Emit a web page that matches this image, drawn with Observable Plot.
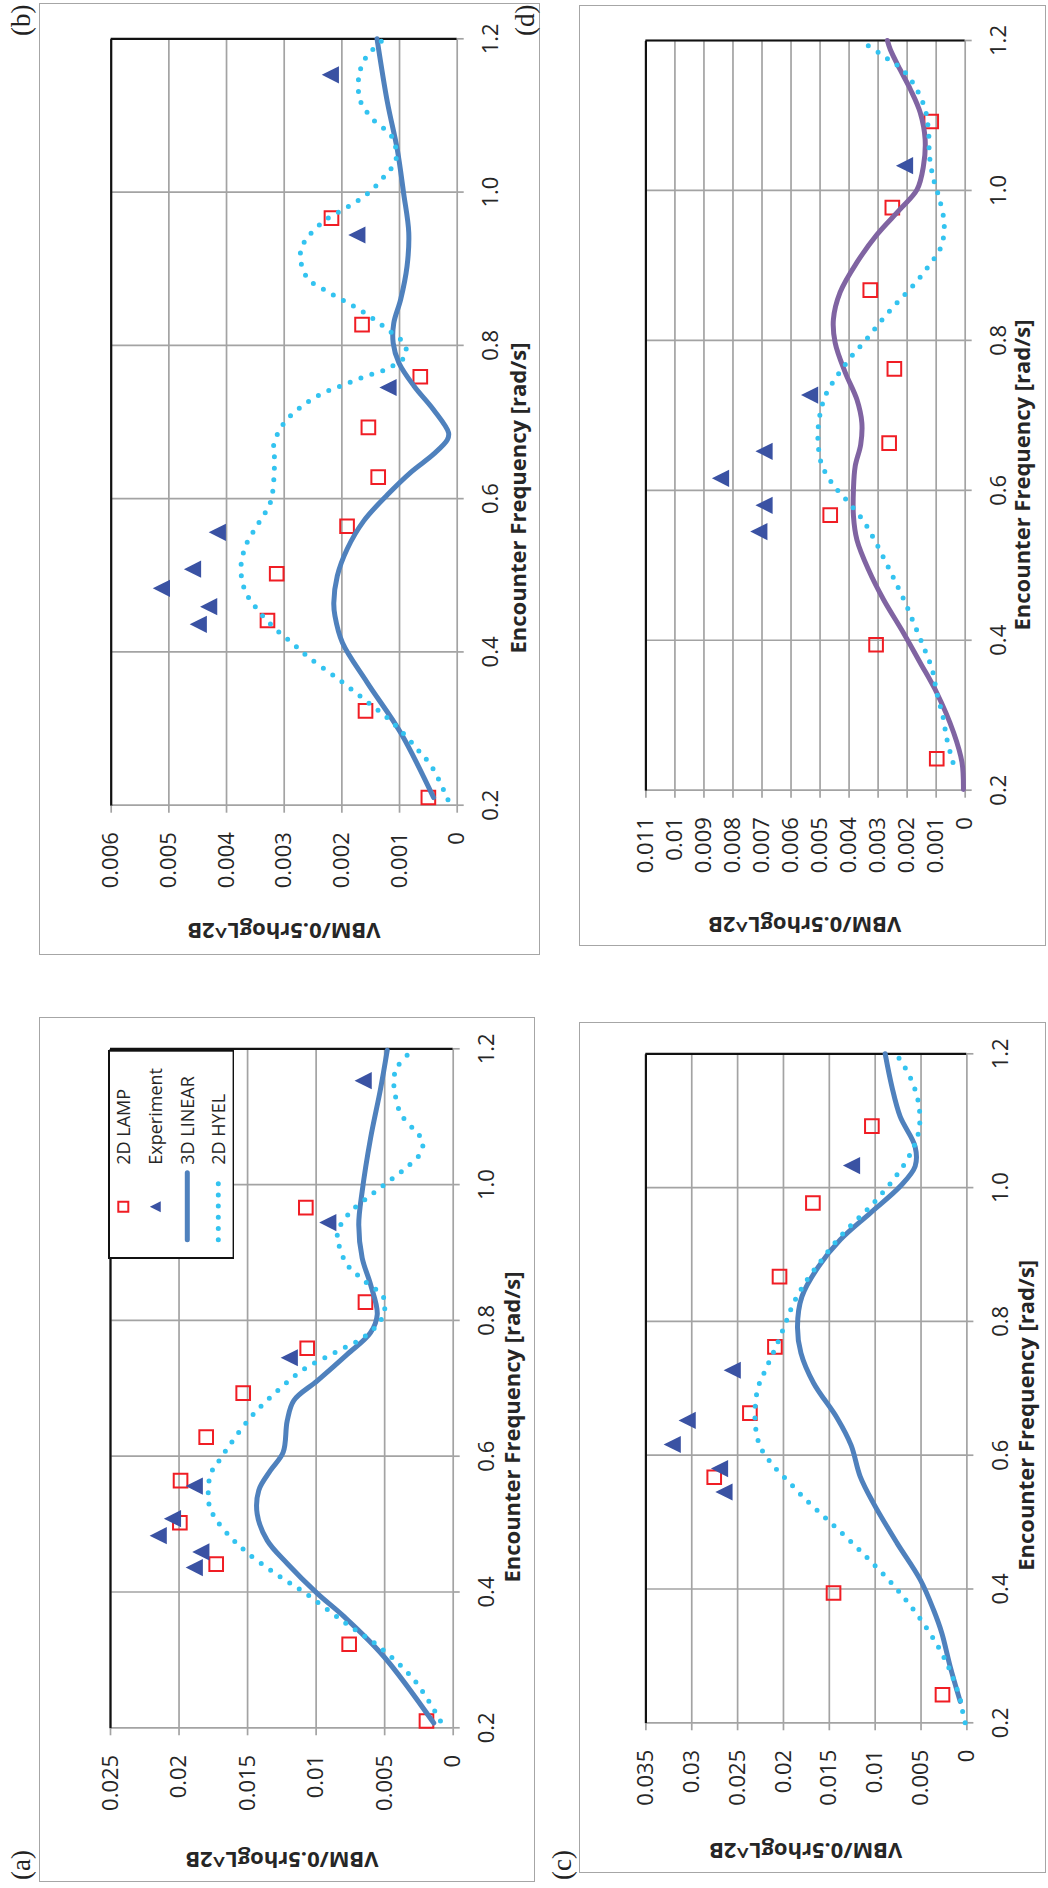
<!DOCTYPE html>
<html><head><meta charset="utf-8">
<script src="https://cdn.jsdelivr.net/npm/d3@7"></script>
<script src="https://cdn.jsdelivr.net/npm/@observablehq/plot@0.6"></script>
<style>
html,body{margin:0;padding:0;background:#fff;overflow:hidden;width:1048px;height:1888px;}
#fig{position:absolute;left:0;top:0;width:1888px;height:1048px;transform-origin:0 0;transform:translateY(1888px) rotate(-90deg);background:#fff;}
.frame{position:absolute;box-sizing:border-box;border:1.7px solid #a6a6a6;pointer-events:none;}
.chart{position:absolute;}
.tag{position:absolute;font-family:"Liberation Serif",serif;font-size:27px;line-height:27px;color:#222;}
</style></head><body><div id="fig"></div>
<script>
// ---------- data ----------
const xTicks = [0.2, 0.4, 0.6, 0.8, 1.0, 1.2];
const yTicksA = [0, 0.005, 0.01, 0.015, 0.02, 0.025];
const yTicksB = [0, 0.001, 0.002, 0.003, 0.004, 0.005, 0.006];
const yTicksC = [0, 0.005, 0.01, 0.015, 0.02, 0.025, 0.03, 0.035];
const yTicksD = [0, 0.001, 0.002, 0.003, 0.004, 0.005, 0.006, 0.007, 0.008, 0.009, 0.01, 0.011];

const seriesNames = ["2D LAMP", "Experiment", "3D LINEAR", "2D HYEL"];
const panelTags = ["(a)", "(b)", "(c)", "(d)"];
const xTitle = "Encounter Frequency [rad/s]";
const yTitle = "VBM/0.5rhogL^2B";

// 2D LAMP
const freqLampAB = [0.210, 0.323, 0.441, 0.502, 0.564, 0.628, 0.693, 0.759, 0.827, 0.966];
const vbmLampA = [0.00195, 0.00759, 0.01729, 0.01994, 0.01989, 0.01802, 0.01532, 0.01065, 0.0064, 0.01075];
const vbmLampB = [0.0005, 0.00159, 0.00329, 0.00313, 0.00191, 0.00137, 0.00154, 0.00064, 0.00165, 0.00218];
const freqLampCD = [0.242, 0.394, 0.567, 0.663, 0.762, 0.867, 0.977, 1.092];
const vbmLampC = [0.00266, 0.01454, 0.02755, 0.02366, 0.02093, 0.02043, 0.01679, 0.01036];
const vbmLampD = [0.00098, 0.00307, 0.00465, 0.00262, 0.00244, 0.00327, 0.00251, 0.00117];

// Experiment
const freqExpAB = [0.436, 0.459, 0.483, 0.508, 0.556, 0.745, 0.944, 1.153];
const vbmExpA = [0.01889, 0.01841, 0.02152, 0.02048, 0.01889, 0.01196, 0.00915, 0.00657];
const vbmExpB = [0.00449, 0.00431, 0.00513, 0.00459, 0.00416, 0.0012, 0.00174, 0.0022];
const freqExpCD = [0.545, 0.580, 0.616, 0.652, 0.727, 1.033];
const vbmExpC = [0.02649, 0.02697, 0.03213, 0.0305, 0.02559, 0.01258];
const vbmExpD = [0.00711, 0.00693, 0.00843, 0.00693, 0.00536, 0.00209];

// 3D LINEAR
const freqLinA = [0.207, 0.305, 0.364, 0.398, 0.442, 0.476, 0.515, 0.55, 0.579, 0.606, 0.652, 0.682, 0.711, 0.75, 0.782, 0.809, 0.853, 0.892, 0.941, 0.99, 1.068, 1.141, 1.198];
const vbmLinA = [0.00142, 0.00506, 0.00798, 0.00992, 0.01211, 0.01357, 0.0143, 0.01418, 0.01333, 0.0124, 0.01211, 0.01163, 0.00992, 0.00773, 0.00603, 0.00554, 0.00603, 0.00664, 0.00689, 0.00664, 0.00603, 0.0053, 0.00481];
const freqLinB = [0.21, 0.2945, 0.36, 0.412, 0.447, 0.464, 0.499, 0.534, 0.571, 0.605, 0.634, 0.658, 0.677, 0.686, 0.716, 0.747, 0.777, 0.803, 0.829, 0.86, 0.903, 0.947, 0.999, 1.056, 1.117, 1.2];
const vbmLinB = [0.00041, 0.00098, 0.00156, 0.00199, 0.00212, 0.00214, 0.00208, 0.00191, 0.00162, 0.00121, 0.00081, 0.00041, 0.00017, 0.00015, 0.00041, 0.00075, 0.00101, 0.00111, 0.0011, 0.00098, 0.00087, 0.00084, 0.00093, 0.00104, 0.00121, 0.00139];
const freqLinC = [0.232, 0.284, 0.334, 0.369, 0.414, 0.469, 0.528, 0.568, 0.615, 0.656, 0.708, 0.753, 0.792, 0.837, 0.882, 0.922, 0.962, 1.002, 1.032, 1.061, 1.106, 1.151, 1.2];
const vbmLinC = [0.00073, 0.00182, 0.00273, 0.00364, 0.00509, 0.00763, 0.01018, 0.01163, 0.01263, 0.01417, 0.01672, 0.0181, 0.01847, 0.01799, 0.01618, 0.01381, 0.01054, 0.00727, 0.00564, 0.00564, 0.00727, 0.00818, 0.00891];
const freqLinD = [0.201, 0.237, 0.277, 0.33, 0.37, 0.41, 0.454, 0.494, 0.534, 0.566, 0.601, 0.632, 0.661, 0.69, 0.721, 0.757, 0.797, 0.828, 0.864, 0.904, 0.941, 0.975, 1.001, 1.032, 1.068, 1.104, 1.135, 1.161, 1.188, 1.2];
const vbmLinD = [0.00006, 0.00011, 0.0004, 0.00098, 0.00155, 0.00213, 0.00281, 0.00333, 0.00373, 0.00385, 0.00385, 0.00379, 0.0036, 0.00356, 0.00373, 0.00413, 0.00448, 0.00454, 0.00431, 0.00373, 0.00304, 0.00224, 0.00166, 0.00144, 0.00138, 0.00155, 0.00189, 0.00224, 0.00258, 0.00268];

// 2D HYEL
const freqHyelA = [0.21, 0.268, 0.316, 0.356, 0.398, 0.427, 0.458, 0.481, 0.508, 0.525, 0.542, 0.574, 0.589, 0.618, 0.66, 0.696, 0.728, 0.753, 0.777, 0.804, 0.833, 0.859, 0.882, 0.912, 0.931, 0.96, 0.982, 1.003, 1.024, 1.048, 1.066, 1.08, 1.105, 1.136, 1.156, 1.173, 1.198];
const vbmHyelA = [0.00093, 0.00275, 0.00518, 0.00798, 0.01077, 0.01296, 0.01503, 0.01625, 0.01734, 0.01776, 0.01787, 0.0177, 0.01722, 0.01625, 0.01466, 0.01284, 0.0109, 0.00859, 0.0064, 0.00518, 0.00506, 0.00652, 0.00773, 0.00835, 0.00842, 0.00749, 0.00616, 0.00481, 0.00348, 0.00233, 0.00226, 0.00282, 0.00384, 0.00426, 0.00433, 0.00409, 0.00299];
const freqHyelB = [0.207, 0.249, 0.273, 0.307, 0.336, 0.365, 0.392, 0.412, 0.432, 0.454, 0.48, 0.51, 0.54, 0.566, 0.595, 0.625, 0.655, 0.671, 0.698, 0.719, 0.736, 0.748, 0.759, 0.769, 0.786, 0.801, 0.822, 0.84, 0.856, 0.87, 0.888, 0.914, 0.929, 0.943, 0.964, 0.98, 0.997, 1.019, 1.043, 1.073, 1.094, 1.119, 1.149, 1.164, 1.178, 1.2];
const vbmHyelB = [0.00016, 0.00043, 0.00069, 0.00111, 0.00158, 0.00207, 0.00256, 0.00287, 0.00318, 0.00345, 0.00368, 0.00375, 0.00366, 0.00346, 0.00324, 0.00318, 0.00317, 0.00318, 0.00301, 0.00272, 0.00237, 0.00199, 0.00161, 0.00123, 0.0009, 0.00091, 0.00123, 0.00156, 0.00191, 0.00225, 0.0026, 0.00272, 0.00269, 0.00257, 0.00228, 0.00191, 0.00157, 0.00128, 0.00106, 0.00114, 0.00145, 0.00168, 0.00171, 0.00166, 0.00156, 0.00127];
const freqHyelC = [0.2, 0.215, 0.231, 0.265, 0.297, 0.328, 0.357, 0.385, 0.411, 0.437, 0.462, 0.486, 0.509, 0.533, 0.559, 0.584, 0.613, 0.648, 0.698, 0.73, 0.763, 0.796, 0.827, 0.858, 0.887, 0.915, 0.941, 0.965, 0.991, 1.019, 1.048, 1.082, 1.116, 1.149, 1.181, 1.199];
const vbmHyelC = [0.00019, 0.00044, 0.00065, 0.00146, 0.00247, 0.00375, 0.00517, 0.00673, 0.00836, 0.01018, 0.01199, 0.01381, 0.01563, 0.01752, 0.01934, 0.02109, 0.02254, 0.02308, 0.02283, 0.02188, 0.02079, 0.01981, 0.01891, 0.01763, 0.0161, 0.01454, 0.01283, 0.01101, 0.00927, 0.00763, 0.00626, 0.00528, 0.00517, 0.00571, 0.0068, 0.00771];
const freqHyelD = [0.237, 0.268, 0.299, 0.33, 0.36, 0.389, 0.418, 0.447, 0.476, 0.503, 0.532, 0.559, 0.583, 0.607, 0.634, 0.665, 0.695, 0.726, 0.752, 0.778, 0.802, 0.827, 0.85, 0.873, 0.897, 0.924, 0.953, 0.985, 1.015, 1.046, 1.077, 1.108, 1.137, 1.161, 1.18, 1.2];
const vbmHyelD = [0.00042, 0.00063, 0.00077, 0.00098, 0.00113, 0.00141, 0.00172, 0.00203, 0.00238, 0.00272, 0.0031, 0.0035, 0.004, 0.00454, 0.00494, 0.00507, 0.00503, 0.00482, 0.00442, 0.00393, 0.00339, 0.00287, 0.00235, 0.0018, 0.0013, 0.00084, 0.00072, 0.00086, 0.00109, 0.00123, 0.00126, 0.00138, 0.0017, 0.00216, 0.00284, 0.0036];

// ---------- styling ----------
const GRID = "#a3a3a3", TXT = "#262626", RED = "#f01d24", NAVY = "#3a52a3", BLUE = "#4f81bd", PURPLE = "#8064a2", CYAN = "#33c3f0";
const FONT = "'Open Sans', 'Noto Sans', sans-serif";
const tri = {draw(ctx, size) { const a = Math.sqrt(size / Math.PI); ctx.moveTo(0, -a); ctx.lineTo(a, a); ctx.lineTo(-a, a); ctx.closePath(); }};
const fmtV = d => d === 0 ? "0" : String(+d.toPrecision(6));
const fmtX = d3.format(".1f");
const zip = (fs, vs) => fs.map((f, i) => ({f, v: vs[i]}));

const fig = document.getElementById("fig");

function panel(cfg) {
  const {frame, plot, yTicks} = cfg;
  const yMax = yTicks[yTicks.length - 1];
  const svg = Plot.plot({
    width: frame.w, height: frame.h,
    marginLeft: plot.l - frame.x, marginRight: frame.x + frame.w - plot.r,
    marginTop: plot.t - frame.y, marginBottom: frame.y + frame.h - plot.b,
    style: {fontFamily: FONT, fontSize: "22px", background: "transparent", color: TXT, overflow: "visible"},
    x: {domain: [0.2, 1.2]},
    y: {domain: [0, yMax]},
    marks: [
      Plot.gridX({ticks: xTicks, stroke: GRID, strokeOpacity: 1, strokeWidth: 1.7}),
      Plot.gridY({ticks: yTicks, stroke: GRID, strokeOpacity: 1, strokeWidth: 1.7}),
      Plot.ruleX([1.2], {stroke: "#111", strokeWidth: 2.2}),
      Plot.ruleY([yMax], {stroke: "#111", strokeWidth: 2.2}),
      Plot.axisX({ticks: xTicks, tickFormat: fmtX, tickSize: 7, tickPadding: 18, stroke: GRID, strokeWidth: 1.7, fill: TXT, fontSize: 22, label: null}),
      Plot.axisY({ticks: yTicks, tickFormat: fmtV, tickSize: 7, tickPadding: 20, stroke: GRID, strokeWidth: 1.7, fill: TXT, fontSize: 22, label: null}),
      Plot.dot(zip(cfg.lampF, cfg.lampV), {x: "f", y: "v", symbol: "square", r: 7.7, stroke: RED, strokeWidth: 2, fill: "none"}),
      Plot.dot(zip(cfg.expF, cfg.expV), {x: "f", y: "v", symbol: tri, r: 8.6, fill: NAVY, stroke: "none"}),
      Plot.line(zip(cfg.linF, cfg.linV), {x: "f", y: "v", stroke: cfg.linColor, strokeWidth: 5, curve: "catmull-rom"}),
      Plot.line(zip(cfg.hyF, cfg.hyV), {x: "f", y: "v", stroke: CYAN, strokeWidth: 5, strokeDasharray: "0 11.5", strokeLinecap: "round", curve: "catmull-rom"})
    ]
  });
  svg.setAttribute("class", "chart");
  svg.style.left = frame.x + "px";
  svg.style.top = frame.y + "px";
  const s = d3.select(svg);
  // axis titles
  s.append("text").attr("x", cfg.xt.x - frame.x).attr("y", cfg.xt.y - frame.y)
    .attr("text-anchor", "middle").attr("font-family", FONT).attr("font-size", 22).attr("font-weight", "bold").attr("fill", TXT)
    .text(xTitle);
  s.append("text").attr("transform", `translate(${cfg.yt.x - frame.x},${cfg.yt.y - frame.y}) rotate(-90)`)
    .attr("text-anchor", "middle").attr("dominant-baseline", "central").attr("font-family", FONT).attr("font-size", 22).attr("font-weight", "bold").attr("fill", TXT)
    .text(yTitle);
  fig.appendChild(svg);
  const fr = document.createElement("div");
  fr.className = "frame";
  Object.assign(fr.style, {left: frame.x + "px", top: frame.y + "px", width: frame.w + "px", height: frame.h + "px"});
  fig.appendChild(fr);
  const tg = document.createElement("div");
  tg.className = "tag";
  tg.textContent = cfg.tag;
  Object.assign(tg.style, {left: cfg.tagPos.x + "px", top: cfg.tagPos.y + "px"});
  fig.appendChild(tg);
}

panel({tag: panelTags[0], tagPos: {x: 8, y: 8},
  frame: {x: 6, y: 39, w: 865, h: 496}, plot: {l: 159.7, r: 838.7, t: 110, b: 452.7}, yTicks: yTicksA,
  xt: {x: 461, y: 520}, yt: {x: 27, y: 282},
  lampF: freqLampAB, lampV: vbmLampA, expF: freqExpAB, expV: vbmExpA,
  linF: freqLinA, linV: vbmLinA, linColor: BLUE, hyF: freqHyelA, hyV: vbmHyelA});
panel({tag: panelTags[1], tagPos: {x: 1852, y: 8},
  frame: {x: 933, y: 39, w: 952, h: 501}, plot: {l: 1082.3, r: 1848.7, t: 110.7, b: 456.7}, yTicks: yTicksB,
  xt: {x: 1390, y: 526}, yt: {x: 956, y: 284},
  lampF: freqLampAB, lampV: vbmLampB, expF: freqExpAB, expV: vbmExpB,
  linF: freqLinB, linV: vbmLinB, linColor: BLUE, hyF: freqHyelB, hyV: vbmHyelB});
panel({tag: panelTags[2], tagPos: {x: 8, y: 549},
  frame: {x: 15.3, y: 579.3, w: 850.4, h: 466.7}, plot: {l: 165, r: 834, t: 645.7, b: 966.7}, yTicks: yTicksC,
  xt: {x: 473, y: 1034}, yt: {x: 36, y: 806},
  lampF: freqLampCD, lampV: vbmLampC, expF: freqExpCD, expV: vbmExpC,
  linF: freqLinC, linV: vbmLinC, linColor: BLUE, hyF: freqHyelC, hyV: vbmHyelC});
panel({tag: panelTags[3], tagPos: {x: 1852, y: 512},
  frame: {x: 942, y: 579.3, w: 941, h: 466.7}, plot: {l: 1097.3, r: 1847, t: 645.7, b: 965}, yTicks: yTicksD,
  xt: {x: 1413, y: 1030}, yt: {x: 962, y: 805},
  lampF: freqLampCD, lampV: vbmLampD, expF: freqExpCD, expV: vbmExpD,
  linF: freqLinD, linV: vbmLinD, linColor: PURPLE, hyF: freqHyelD, hyV: vbmHyelD});

// ---------- legend (panel a) ----------
(function legend() {
  const L = {x: 628.7, y: 107.7, w: 209.3, h: 126.6};
  const svg = d3.create("svg").attr("width", L.w).attr("height", L.h)
    .style("position", "absolute").style("left", L.x + "px").style("top", L.y + "px");
  svg.append("rect").attr("x", 1).attr("y", 1).attr("width", L.w - 2).attr("height", L.h - 2).attr("fill", "#fff").attr("stroke", "#111").attr("stroke-width", 2);
  const rows = [15.3, 47.3, 79.3, 110.3];
  const sx = 681 - L.x, x0 = 648 - L.x, x1 = 715 - L.x, tx = 723 - L.x;
  svg.append("path").attr("transform", `translate(${sx},${rows[0]})`).attr("d", d3.symbol(d3.symbolSquare, 100)()).attr("fill", "none").attr("stroke", RED).attr("stroke-width", 2);
  svg.append("path").attr("transform", `translate(${sx},${rows[1]})`).attr("d", d3.symbol(tri, Math.PI * 30)()).attr("fill", NAVY);
  svg.append("line").attr("x1", x0).attr("x2", x1).attr("y1", rows[2]).attr("y2", rows[2]).attr("stroke", BLUE).attr("stroke-width", 5).attr("stroke-linecap", "round");
  svg.append("line").attr("x1", x0).attr("x2", x1).attr("y1", rows[3]).attr("y2", rows[3]).attr("stroke", CYAN).attr("stroke-width", 5).attr("stroke-linecap", "round").attr("stroke-dasharray", "0 11.2");
  seriesNames.forEach((n, i) => svg.append("text").attr("x", tx).attr("y", rows[i]).attr("dominant-baseline", "central")
    .attr("font-family", FONT).attr("font-size", 18).attr("fill", TXT).text(n));
  fig.appendChild(svg.node());
})();
</script></body></html>
